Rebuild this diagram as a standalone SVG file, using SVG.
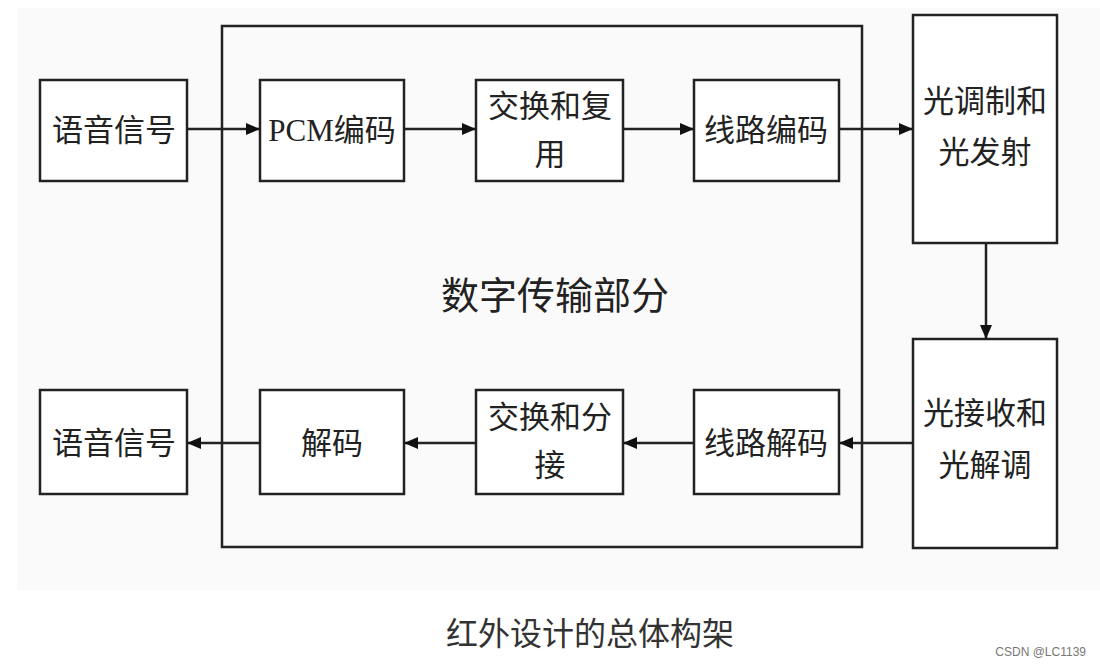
<svg xmlns="http://www.w3.org/2000/svg" width="1100" height="664" viewBox="0 0 1100 664">
<defs>
<style>
.box{fill:#fff;stroke:#222;stroke-width:2.5}
.big{fill:none;stroke:#222;stroke-width:2.5}
.t{font-family:"Liberation Serif","Noto Sans CJK SC",serif;font-size:31px;fill:#222;text-anchor:middle}
.c{stroke:#222;stroke-width:2.5;fill:none;marker-end:url(#ah)}
</style>
<marker id="ah" viewBox="0 0 14 12" refX="14" refY="6" markerWidth="14" markerHeight="12" markerUnits="userSpaceOnUse" orient="auto">
<path d="M0,0 L14,6 L0,12 Z" fill="#111"/>
</marker>
</defs>
<rect x="0" y="0" width="1100" height="664" fill="#fff"/>
<rect x="17" y="8" width="1083" height="582" fill="#fafafa"/>
<g id="digital">
<rect class="big" x="222" y="26" width="640" height="521"/>
<text class="t" x="555" y="309" style="font-size:38px">数字传输部分</text>
</g>
<g id="voice-in"><rect class="box" x="40" y="80" width="147" height="101"/><text class="t" x="114" y="141">语音信号</text></g>
<g id="pcm"><rect class="box" x="260" y="80" width="144" height="101"/><text class="t" x="332" y="141">PCM编码</text></g>
<g id="mux"><rect class="box" x="476" y="80" width="147" height="101"/><text class="t" x="550" y="117">交换和复</text><text class="t" x="550" y="165">用</text></g>
<g id="linecode"><rect class="box" x="694" y="80" width="145" height="101"/><text class="t" x="766" y="141">线路编码</text></g>
<g id="optx"><rect class="box" x="913" y="15" width="144" height="228"/><text class="t" x="985" y="112">光调制和</text><text class="t" x="985" y="163">光发射</text></g>
<g id="oprx"><rect class="box" x="913" y="339" width="144" height="209"/><text class="t" x="985" y="424">光接收和</text><text class="t" x="985" y="476">光解调</text></g>
<g id="voice-out"><rect class="box" x="40" y="390" width="147" height="104"/><text class="t" x="114" y="454">语音信号</text></g>
<g id="decode"><rect class="box" x="260" y="390" width="144" height="104"/><text class="t" x="332" y="454">解码</text></g>
<g id="demux"><rect class="box" x="476" y="390" width="147" height="104"/><text class="t" x="550" y="428">交换和分</text><text class="t" x="550" y="476">接</text></g>
<g id="linedecode"><rect class="box" x="694" y="390" width="145" height="104"/><text class="t" x="766" y="454">线路解码</text></g>
<g id="connectors">
<line class="c" x1="187" y1="129" x2="260" y2="129"/>
<line class="c" x1="404" y1="129" x2="476" y2="129"/>
<line class="c" x1="623" y1="129" x2="694" y2="129"/>
<line class="c" x1="839" y1="129" x2="913" y2="129"/>
<line class="c" x1="986" y1="243" x2="986" y2="339"/>
<line class="c" x1="913" y1="443" x2="839" y2="443"/>
<line class="c" x1="694" y1="443" x2="623" y2="443"/>
<line class="c" x1="476" y1="443" x2="404" y2="443"/>
<line class="c" x1="260" y1="443" x2="187" y2="443"/>
</g>
<text class="t" x="590" y="645" style="font-size:32px;fill:#333">红外设计的总体构架</text>
<text x="1100" y="656" style="font-family:'Liberation Sans',sans-serif;font-size:12px;fill:#777;text-anchor:end" dx="-14">CSDN @LC1139</text>
</svg>
